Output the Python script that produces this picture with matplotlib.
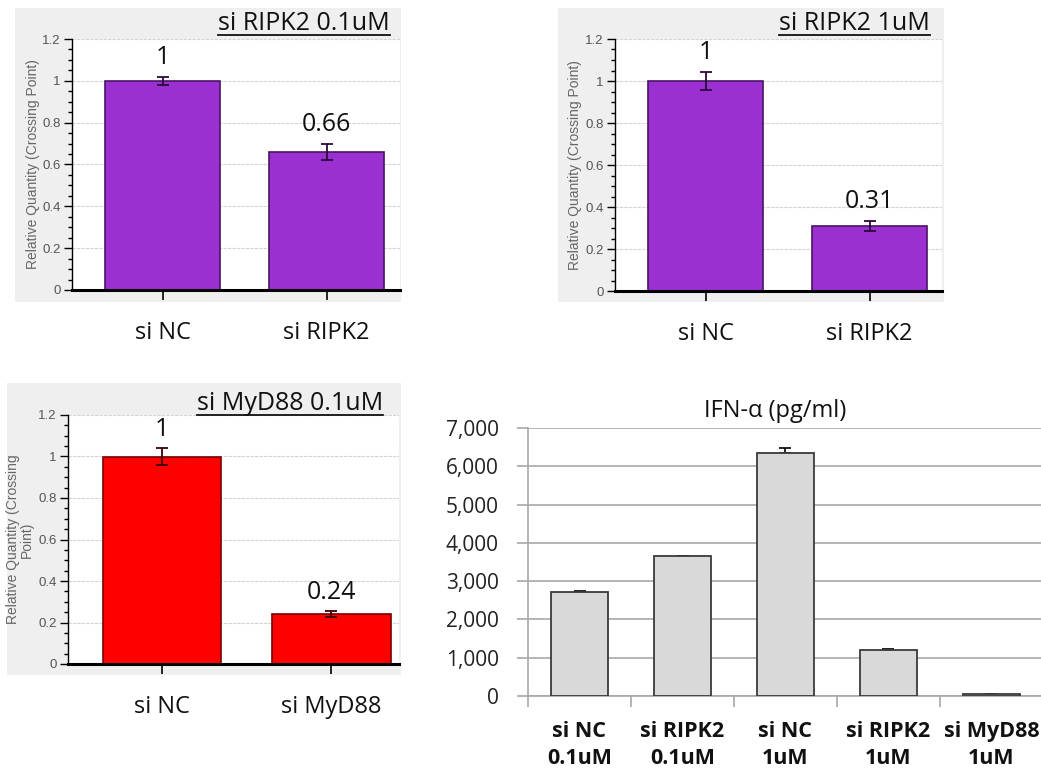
import matplotlib
matplotlib.use("Agg")
import matplotlib.pyplot as plt
from matplotlib.patches import Rectangle
from matplotlib.ticker import MultipleLocator, FuncFormatter

# ---------------- data ----------------
p1_cats = ["si NC", "si RIPK2"]
p1_vals = [1.0, 0.66]
p1_errs = [0.02, 0.04]
p1_labels = ["1", "0.66"]
p1_title = "si RIPK2 0.1uM"

p2_cats = ["si NC", "si RIPK2"]
p2_vals = [1.0, 0.31]
p2_errs = [0.045, 0.025]
p2_labels = ["1", "0.31"]
p2_title = "si RIPK2 1uM"

p3_cats = ["si NC", "si MyD88"]
p3_vals = [1.0, 0.24]
p3_errs = [0.04, 0.015]
p3_labels = ["1", "0.24"]
p3_title = "si MyD88 0.1uM"

ifn_cats = ["si NC\n0.1uM", "si RIPK2\n0.1uM", "si NC\n1uM", "si RIPK2\n1uM", "si MyD88\n1uM"]
ifn_vals = [2720, 3650, 6350, 1200, 60]
ifn_errs = [25, 0, 130, 20, 0]
ifn_title = "IFN-α (pg/ml)"
ifn_yticks = [0, 1000, 2000, 3000, 4000, 5000, 6000, 7000]

W, H = 1041, 769
SANS = ["Open Sans", "DejaVu Sans"]
NARROW = ["Liberation Sans Narrow", "Liberation Sans", "DejaVu Sans"]

fig = plt.figure(figsize=(W / 100, H / 100), dpi=100)
fig.patch.set_facecolor("white")


def rect(x0, y0, x1, y1):
    """pixel box (top-left origin) -> figure fraction [l, b, w, h]"""
    return [x0 / W, 1 - y1 / H, (x1 - x0) / W, (y1 - y0) / H]


def small_panel(bg, axbox, xlim, cats, vals, errs, labels, title, title_xy,
                ylabel, ylabel_x, face, edge, ecol):
    l, b, w, h = rect(*bg)
    fig.patches.append(Rectangle((l, b), w, h, transform=fig.transFigure,
                                 facecolor="#efefef", edgecolor="none", zorder=-5))
    ax = fig.add_axes(rect(*axbox))
    ax.set_zorder(2)
    ax.set_facecolor("white")
    x = list(range(len(cats)))
    ax.bar(x, vals, width=0.70, color=face, edgecolor=edge, linewidth=1.2, zorder=3)
    ax.errorbar(x, vals, yerr=errs, fmt="none", ecolor=ecol, elinewidth=1.3,
                capsize=4, capthick=1.3, zorder=4)
    for xi, v, e, t in zip(x, vals, errs, labels):
        ax.text(xi, v + e + 0.03, t, ha="center", va="bottom", fontsize=18,
                family=SANS, color="#111111", zorder=5)
    ax.set_xlim(*xlim)
    ax.set_ylim(0, 1.2)
    ax.yaxis.set_major_locator(MultipleLocator(0.2))
    ax.yaxis.set_minor_locator(MultipleLocator(0.05))
    ax.yaxis.set_major_formatter(FuncFormatter(lambda v, p: ("%g" % round(v, 2))))
    ax.grid(axis="y", which="major", color="#d4d4d4", linewidth=0.8,
            linestyle=(0, (3, 1)), zorder=1)
    for s in ["top", "right"]:
        ax.spines[s].set_visible(False)
    ax.spines["left"].set_linewidth(1.0)
    ax.spines["bottom"].set_linewidth(2.2)
    ax.spines["bottom"].set_zorder(5)
    ax.tick_params(axis="y", which="major", length=6, width=1, labelsize=9.5,
                   labelcolor="#555555", pad=2)
    ax.tick_params(axis="y", which="minor", length=3, width=1)
    for lab in ax.get_yticklabels():
        lab.set_family(NARROW)
    ax.set_xticks(x)
    ax.set_xticklabels(cats, fontsize=17, family=SANS, color="#111111")
    ax.tick_params(axis="x", length=7, width=1.2, pad=15)
    fig.text(ylabel_x / W, 1 - ((axbox[1] + axbox[3]) / 2) / H, ylabel,
             rotation=90, ha="center", va="center", fontsize=10,
             family=["Liberation Sans", "DejaVu Sans"], color="#666666",
             linespacing=1.0, zorder=3)
    tt = fig.text(title_xy[0] / W, 1 - title_xy[1] / H, title, ha="right",
                  va="center", fontsize=18, family=SANS, color="#111111", zorder=3)
    # underline
    fig.canvas.draw()
    bb = tt.get_window_extent()
    fig.add_artist(plt.Line2D([bb.x0 / W, bb.x1 / W],
                              [(bb.y0 + 1) / H, (bb.y0 + 1) / H],
                              transform=fig.transFigure, color="#111111",
                              linewidth=1.3, zorder=3))
    return ax


purple = "#9b30d0"
purple_edge = "#4a1466"
red = "#ff0000"
red_edge = "#7a0000"

small_panel((15, 8, 401, 302), (72, 39, 400, 290), (-0.552, 1.448),
            p1_cats, p1_vals, p1_errs, p1_labels, p1_title, (390, 23),
            "Relative Quantity (Crossing Point)", 33, purple, purple_edge, "#2a0a3a")
small_panel((558, 8, 944, 302), (615, 39, 942, 291), (-0.552, 1.442),
            p2_cats, p2_vals, p2_errs, p2_labels, p2_title, (930, 23),
            "Relative Quantity (Crossing Point)", 575, purple, purple_edge, "#2a0a3a")
small_panel((7, 383, 401, 675), (68, 415, 399, 664), (-0.555, 1.40),
            p3_cats, p3_vals, p3_errs, p3_labels, p3_title, (383, 404),
            "Relative Quantity (Crossing\nPoint)", 20, red, red_edge, "#3a0000")

# ---------------- IFN-alpha panel ----------------
ax4 = fig.add_axes(rect(528, 428, 1043, 696))
x4 = list(range(len(ifn_cats)))
ax4.errorbar(x4, ifn_vals, yerr=[[0] * len(ifn_errs), ifn_errs], fmt="none",
             ecolor="#111111", elinewidth=1.3, capsize=4, capthick=1.3, zorder=2)
ax4.bar(x4, ifn_vals, width=0.56, color="#d9d9d9", edgecolor="#3a3a3a",
        linewidth=1.3, zorder=3)
ax4.set_xlim(-0.5, len(ifn_cats) - 0.5)
ax4.set_ylim(0, 7000)
ax4.set_yticks(ifn_yticks)
ax4.yaxis.set_major_formatter(FuncFormatter(lambda v, p: f"{int(v):,}"))
ax4.grid(axis="y", color="#a8a8a8", linewidth=1.2, zorder=1)
for s in ["top", "right"]:
    ax4.spines[s].set_visible(False)
ax4.spines["left"].set_color("#a8a8a8")
ax4.spines["bottom"].set_color("#a8a8a8")
ax4.spines["left"].set_linewidth(1.2)
ax4.spines["bottom"].set_linewidth(1.2)
ax4.tick_params(axis="y", length=8, width=1.2, color="#a8a8a8", labelsize=15,
                pad=13, labelcolor="#222222")
for lab in ax4.get_yticklabels():
    lab.set_family(SANS)
ax4.set_xticks([i - 0.5 for i in range(len(ifn_cats) + 1)], minor=False)
ax4.set_xticklabels([""] * (len(ifn_cats) + 1))
ax4.tick_params(axis="x", which="major", length=8, width=1.2, color="#a8a8a8")
ax4.set_xticks(x4, minor=True)
ax4.set_xticklabels(ifn_cats, minor=True, fontsize=15.5, family=SANS,
                    fontweight="bold", color="#111111", linespacing=1.35)
ax4.tick_params(axis="x", which="minor", length=0, pad=18)
ax4.set_title(ifn_title, fontsize=17, family=SANS, color="#111111", pad=8, x=0.48)

fig.savefig("out.png", dpi=100, facecolor="white")
